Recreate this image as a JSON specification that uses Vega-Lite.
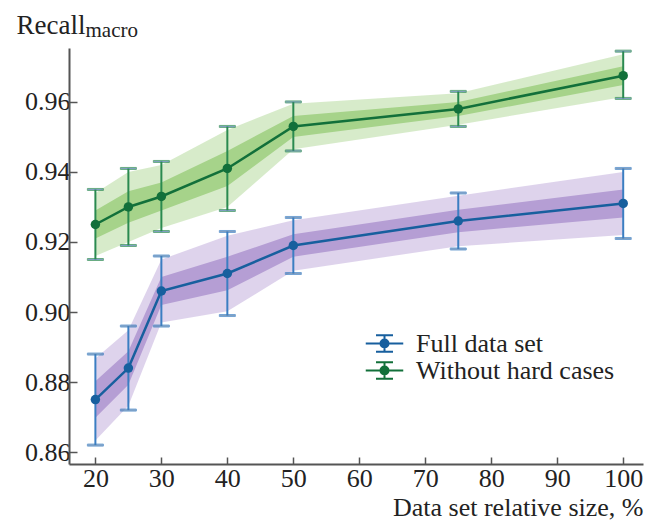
{
  "$schema": "https://vega.github.io/schema/vega-lite/v6.json",
  "width": 574,
  "height": 416,
  "autosize": "none",
  "padding": {"left": 69, "top": 48, "right": 8, "bottom": 57},
  "background": "white",
  "config": {
    "view": {"stroke": null},
    "font": "Liberation Serif",
    "axis": {
      "grid": false,
      "domainColor": "#555555",
      "domainWidth": 2,
      "tickColor": "#555555",
      "tickWidth": 1.5,
      "labelFont": "Liberation Serif",
      "labelFontSize": 26,
      "labelColor": "#222222",
      "titleFont": "Liberation Serif",
      "titleFontWeight": "normal",
      "titleColor": "#222222"
    },
    "legend": {
      "labelFont": "Liberation Serif",
      "labelFontSize": 26,
      "labelColor": "#222222"
    }
  },
  "data": {
    "values": [
      {"size": 20, "series": "Full data set", "mean": 0.875, "lo": 0.862, "hi": 0.888, "olo": 0.8633, "ohi": 0.8867, "ilo": 0.8698, "ihi": 0.8802},
      {"size": 25, "series": "Full data set", "mean": 0.884, "lo": 0.872, "hi": 0.896, "olo": 0.8732, "ohi": 0.8948, "ilo": 0.8792, "ihi": 0.8888},
      {"size": 30, "series": "Full data set", "mean": 0.906, "lo": 0.896, "hi": 0.916, "olo": 0.897, "ohi": 0.915, "ilo": 0.902, "ihi": 0.910},
      {"size": 40, "series": "Full data set", "mean": 0.911, "lo": 0.899, "hi": 0.923, "olo": 0.9002, "ohi": 0.9218, "ilo": 0.9062, "ihi": 0.9158},
      {"size": 50, "series": "Full data set", "mean": 0.919, "lo": 0.911, "hi": 0.927, "olo": 0.9118, "ohi": 0.9262, "ilo": 0.9158, "ihi": 0.9222},
      {"size": 75, "series": "Full data set", "mean": 0.926, "lo": 0.918, "hi": 0.934, "olo": 0.9188, "ohi": 0.9332, "ilo": 0.9228, "ihi": 0.9292},
      {"size": 100, "series": "Full data set", "mean": 0.931, "lo": 0.921, "hi": 0.941, "olo": 0.922, "ohi": 0.940, "ilo": 0.927, "ihi": 0.935},
      {"size": 20, "series": "Without hard cases", "mean": 0.925, "lo": 0.915, "hi": 0.935, "olo": 0.916, "ohi": 0.934, "ilo": 0.921, "ihi": 0.929},
      {"size": 25, "series": "Without hard cases", "mean": 0.930, "lo": 0.919, "hi": 0.941, "olo": 0.920, "ohi": 0.940, "ilo": 0.9255, "ihi": 0.9345},
      {"size": 30, "series": "Without hard cases", "mean": 0.933, "lo": 0.923, "hi": 0.943, "olo": 0.924, "ohi": 0.942, "ilo": 0.929, "ihi": 0.937},
      {"size": 40, "series": "Without hard cases", "mean": 0.941, "lo": 0.929, "hi": 0.953, "olo": 0.930, "ohi": 0.952, "ilo": 0.936, "ihi": 0.946},
      {"size": 50, "series": "Without hard cases", "mean": 0.953, "lo": 0.946, "hi": 0.960, "olo": 0.9465, "ohi": 0.9595, "ilo": 0.950, "ihi": 0.956},
      {"size": 75, "series": "Without hard cases", "mean": 0.958, "lo": 0.953, "hi": 0.963, "olo": 0.9535, "ohi": 0.9625, "ilo": 0.956, "ihi": 0.960},
      {"size": 100, "series": "Without hard cases", "mean": 0.9675, "lo": 0.961, "hi": 0.9745, "olo": 0.9614, "ohi": 0.9736, "ilo": 0.9648, "ihi": 0.9702}
    ]
  },
  "resolve": {"axis": {"y": "independent"}},
  "layer": [
    {
      "mark": {"type": "area", "opacity": 0.45},
      "encoding": {
        "x": {
          "field": "size", "type": "quantitative",
          "scale": {"domain": [16, 103], "nice": false, "zero": false},
          "axis": {
            "values": [20, 30, 40, 50, 60, 70, 80, 90, 100],
            "tickSize": -7,
            "labelPadding": 8,
            "title": "Data set relative size, %",
            "titleFontSize": 26,
            "titleAnchor": "end",
            "titleAlign": "right",
            "titleBaseline": "alphabetic",
            "titleX": 574,
            "titleY": 51
          }
        },
        "y": {
          "field": "olo", "type": "quantitative",
          "scale": {"domain": [0.8566, 0.9754], "nice": false, "zero": false},
          "axis": {
            "orient": "left",
            "values": [0.86, 0.88, 0.90, 0.92, 0.94, 0.96],
            "format": ".2f",
            "tickSize": -8,
            "labelPadding": 7,
            "title": "Recall",
            "titleFontSize": 27,
            "titleAngle": 0,
            "titleAlign": "left",
            "titleBaseline": "alphabetic",
            "titleX": -53,
            "titleY": -15
          }
        },
        "y2": {"field": "ohi"},
        "fill": {
          "field": "series", "type": "nominal",
          "scale": {"range": ["#b59ed4", "#a6d38a"]},
          "legend": null
        }
      }
    },
    {
      "mark": {"type": "area", "opacity": 1},
      "encoding": {
        "x": {"field": "size", "type": "quantitative"},
        "y": {"field": "ilo", "type": "quantitative", "axis": null},
        "y2": {"field": "ihi"},
        "fill": {"field": "series", "type": "nominal", "legend": null}
      }
    },
    {
      "mark": {"type": "rule", "strokeWidth": 2},
      "encoding": {
        "x": {"field": "size", "type": "quantitative"},
        "y": {"field": "lo", "type": "quantitative", "axis": null},
        "y2": {"field": "hi"},
        "stroke": {
          "field": "series", "type": "nominal",
          "scale": {"range": ["#3b7ec2", "#2a8a50"]},
          "legend": null
        }
      }
    },
    {
      "mark": {"type": "tick", "orient": "horizontal", "size": 16, "thickness": 2},
      "encoding": {
        "x": {"field": "size", "type": "quantitative"},
        "y": {"field": "lo", "type": "quantitative", "axis": null},
        "stroke": {"field": "series", "type": "nominal", "legend": null}
      }
    },
    {
      "mark": {"type": "tick", "orient": "horizontal", "size": 16, "thickness": 2},
      "encoding": {
        "x": {"field": "size", "type": "quantitative"},
        "y": {"field": "hi", "type": "quantitative", "axis": null},
        "stroke": {"field": "series", "type": "nominal", "legend": null}
      }
    },
    {
      "mark": {"type": "line", "strokeWidth": 2.5},
      "encoding": {
        "x": {"field": "size", "type": "quantitative"},
        "y": {
          "field": "mean", "type": "quantitative",
          "axis": {
            "orient": "right",
            "domain": false, "ticks": false, "labels": false,
            "title": "macro",
            "titleFontSize": 21,
            "titleAngle": 0,
            "titleAlign": "left",
            "titleBaseline": "alphabetic",
            "titleX": -558,
            "titleY": -12
          }
        },
        "color": {
          "field": "series", "type": "nominal",
          "scale": {"domain": ["Full data set", "Without hard cases"], "range": ["#175f9e", "#12703a"]},
          "legend": {
            "title": null,
            "orient": "none",
            "legendX": 302,
            "legendY": 282,
            "padding": 0,
            "symbolType": "M-1.5,0H1.5M0,-0.66V0.66M-0.68,-0.66H0.68M-0.68,0.66H0.68M-0.32,0A0.32,0.32 0 1,0 0.32,0A0.32,0.32 0 1,0 -0.32,0Z",
            "symbolSize": 625,
            "symbolStrokeWidth": 2,
            "labelOffset": 18,
            "labelLimit": 500,
            "rowPadding": -2,
            "encode": {
              "symbols": {
                "update": {
                  "fill": {"scale": "color", "field": "value"},
                  "stroke": {"scale": "color", "field": "value"},
                  "opacity": {"value": 1},
                  "fillOpacity": {"value": 1}
                }
              }
            }
          }
        }
      }
    },
    {
      "mark": {"type": "point", "filled": true, "size": 90, "opacity": 1},
      "encoding": {
        "x": {"field": "size", "type": "quantitative"},
        "y": {"field": "mean", "type": "quantitative", "axis": null},
        "color": {"field": "series", "type": "nominal"}
      }
    }
  ]
}
